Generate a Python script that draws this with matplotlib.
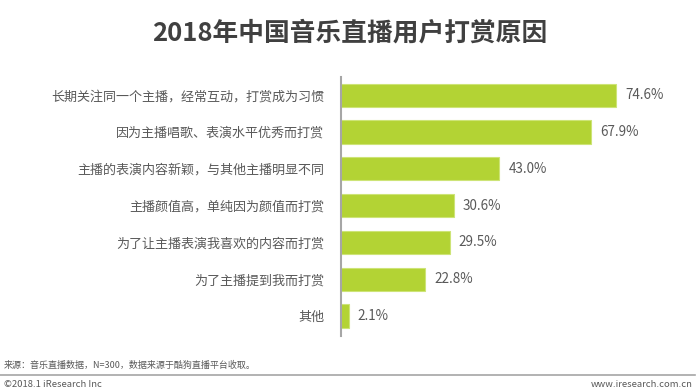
import matplotlib
matplotlib.use('Agg')
import matplotlib.pyplot as plt

plt.rcParams['font.family'] = ['Noto Sans CJK SC', 'DejaVu Sans']

# 打赏原因
reasons = ['长期关注同一个主播，经常互动，打赏成为习惯',
           '因为主播唱歌、表演水平优秀而打赏',
           '主播的表演内容新颖，与其他主播明显不同',
           '主播颜值高，单纯因为颜值而打赏',
           '为了让主播表演我喜欢的内容而打赏',
           '为了主播提到我而打赏',
           '其他']
values = [74.6, 67.9, 43.0, 30.6, 29.5, 22.8, 2.1]

fig = plt.figure(figsize=(7, 3.9), dpi=100)
ax = fig.add_axes([0.487, 0.138, 0.5, 0.665])

pos = list(range(len(reasons)))[::-1]
ax.barh(pos, values, height=0.63, color='#b3d334', edgecolor='#cde477', linewidth=0.8)
for p, v in zip(pos, values):
    ax.text(v + 2.5, p, '%.1f%%' % v, va='center', ha='left', fontsize=9.7, color='#595959')

ax.set_yticks(pos)
ax.set_yticklabels(reasons, fontsize=9.4, color='#595959')
ax.tick_params(axis='y', length=0, pad=12)
ax.set_xticks([])
ax.set_xlim(0, 95)
ax.set_ylim(-0.55, 6.5)
for s in ['top', 'right', 'bottom']:
    ax.spines[s].set_visible(False)
ax.spines['left'].set_color('#a6a6a6')
ax.spines['left'].set_linewidth(1.5)

fig.text(0.5, 0.915, '2018年中国音乐直播用户打赏原因', ha='center', va='center',
         fontsize=18.5, fontweight='bold', color='#404040')

fig.text(0.005, 0.062, '来源：音乐直播数据，N=300，数据来源于酷狗直播平台收取。',
         fontsize=6.5, color='#595959', va='center')
fig.add_artist(plt.Line2D([0.0, 0.993], [0.038, 0.038], color='#a6a6a6', linewidth=1.2,
                          transform=fig.transFigure))
fig.text(0.005, 0.015, '©2018.1 iResearch Inc', fontsize=6.8, color='#595959', va='center')
fig.text(0.99, 0.015, 'www.iresearch.com.cn', fontsize=6.8, color='#595959', va='center', ha='right')

fig.savefig('out.png', dpi=100, facecolor='white')
